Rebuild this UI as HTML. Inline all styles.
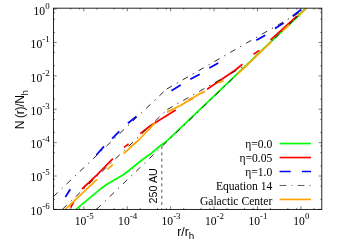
<!DOCTYPE html>
<html><head><meta charset="utf-8"><title>plot</title>
<style>html,body{margin:0;padding:0;background:#fff;}svg{display:block;will-change:transform;opacity:0.999;}text{font-family:"Liberation Serif",serif;fill:#000;}.ss{font-family:"Liberation Sans",sans-serif;}</style></head><body>
<svg width="350" height="245" viewBox="0 0 350 245">
<rect x="0" y="0" width="350" height="245" fill="#fff"/>
<path d="M53.5 9.10h3.2M321.8 9.10h-3.2M53.5 32.43h1.5M321.8 32.43h-1.5M53.5 19.15h1.5M321.8 19.15h-1.5M53.5 12.33h1.5M321.8 12.33h-1.5M53.5 42.48h3.2M321.8 42.48h-3.2M53.5 65.81h1.5M321.8 65.81h-1.5M53.5 52.53h1.5M321.8 52.53h-1.5M53.5 45.71h1.5M321.8 45.71h-1.5M53.5 75.86h3.2M321.8 75.86h-3.2M53.5 99.19h1.5M321.8 99.19h-1.5M53.5 85.91h1.5M321.8 85.91h-1.5M53.5 79.09h1.5M321.8 79.09h-1.5M53.5 109.24h3.2M321.8 109.24h-3.2M53.5 132.57h1.5M321.8 132.57h-1.5M53.5 119.29h1.5M321.8 119.29h-1.5M53.5 112.47h1.5M321.8 112.47h-1.5M53.5 142.62h3.2M321.8 142.62h-3.2M53.5 165.95h1.5M321.8 165.95h-1.5M53.5 152.67h1.5M321.8 152.67h-1.5M53.5 145.85h1.5M321.8 145.85h-1.5M53.5 176.00h3.2M321.8 176.00h-3.2M53.5 199.33h1.5M321.8 199.33h-1.5M53.5 186.05h1.5M321.8 186.05h-1.5M53.5 179.23h1.5M321.8 179.23h-1.5M53.5 209.38h3.2M321.8 209.38h-3.2M70.73 209.4v-1.5M70.73 8.17v1.5M79.59 209.4v-1.5M79.59 8.17v1.5M83.80 209.4v-3.2M83.80 8.17v3.2M96.87 209.4v-1.5M96.87 8.17v1.5M114.15 209.4v-1.5M114.15 8.17v1.5M123.01 209.4v-1.5M123.01 8.17v1.5M127.22 209.4v-3.2M127.22 8.17v3.2M140.29 209.4v-1.5M140.29 8.17v1.5M157.57 209.4v-1.5M157.57 8.17v1.5M166.43 209.4v-1.5M166.43 8.17v1.5M170.64 209.4v-3.2M170.64 8.17v3.2M183.71 209.4v-1.5M183.71 8.17v1.5M200.99 209.4v-1.5M200.99 8.17v1.5M209.85 209.4v-1.5M209.85 8.17v1.5M214.06 209.4v-3.2M214.06 8.17v3.2M227.13 209.4v-1.5M227.13 8.17v1.5M244.41 209.4v-1.5M244.41 8.17v1.5M253.27 209.4v-1.5M253.27 8.17v1.5M257.48 209.4v-3.2M257.48 8.17v3.2M270.55 209.4v-1.5M270.55 8.17v1.5M287.83 209.4v-1.5M287.83 8.17v1.5M296.69 209.4v-1.5M296.69 8.17v1.5M300.90 209.4v-3.2M300.90 8.17v3.2M313.97 209.4v-1.5M313.97 8.17v1.5" stroke="#111" stroke-width="0.55" fill="none"/>
<clipPath id="c"><rect x="53.5" y="8.17" width="268.3" height="201.23000000000002"/></clipPath>
<g clip-path="url(#c)" fill="none" stroke-linecap="butt" stroke-linejoin="round">
<polyline points="75.7,209.6 100.0,189.3 107.0,184.3 114.3,180.0 122.9,175.0 128.6,170.7 135.7,165.0 142.9,159.3 150.0,154.3 160.0,146.0 167.5,140.4 272.0,40.6 295.0,19.0 306.3,8.0" stroke="#00ff00" stroke-width="1.75"/>
<polyline points="70.7,207.6 73.6,202.0" stroke="#ff0000" stroke-width="1.75"/>
<polyline points="82.0,189.0 97.0,174.8 112.9,158.6" stroke="#ff0000" stroke-width="1.75"/>
<polyline points="124.0,147.4 128.6,144.0" stroke="#ff0000" stroke-width="1.75"/>
<polyline points="140.2,133.6 150.0,126.0 175.7,110.0" stroke="#ff0000" stroke-width="1.75"/>
<polyline points="188.6,100.3 192.9,98.1" stroke="#ff0000" stroke-width="1.75"/>
<polyline points="207.1,89.3 235.0,70.3 242.4,64.3" stroke="#ff0000" stroke-width="1.75"/>
<polyline points="253.6,54.3 259.3,50.4" stroke="#ff0000" stroke-width="1.75"/>
<polyline points="270.5,39.9 285.0,26.8 296.8,16.2" stroke="#ff0000" stroke-width="1.75"/>
<polyline points="65.4,197.0 70.3,189.3" stroke="#0000ff" stroke-width="1.75"/>
<polyline points="96.4,155.0 104.0,146.4" stroke="#0000ff" stroke-width="1.75"/>
<polyline points="112.1,138.6 119.3,131.4" stroke="#0000ff" stroke-width="1.75"/>
<polyline points="127.9,123.3 136.4,116.4" stroke="#0000ff" stroke-width="1.75"/>
<polyline points="171.4,90.7 180.7,85.0" stroke="#0000ff" stroke-width="1.75"/>
<polyline points="190.3,79.3 199.7,74.3" stroke="#0000ff" stroke-width="1.75"/>
<polyline points="209.3,67.9 218.3,62.9" stroke="#0000ff" stroke-width="1.75"/>
<polyline points="256.3,40.2 265.3,35.3" stroke="#0000ff" stroke-width="1.75"/>
<polyline points="275.0,28.6 283.6,23.0" stroke="#0000ff" stroke-width="1.75"/>
<polyline points="292.6,16.3 301.2,9.5" stroke="#0000ff" stroke-width="1.75"/>
<polyline points="53.3,196.7 167.3,88.3" stroke="#222" stroke-width="0.95" stroke-dasharray="6.0 5.5 1.3 5.5"/>
<polyline points="166.8,89.0 306.9,8.3" stroke="#222" stroke-width="0.95" stroke-dasharray="6.0 5.5 1.3 5.5"/>
<polyline points="62.4,209.3 167.3,109.5" stroke="#222" stroke-width="0.95" stroke-dasharray="6.0 5.5 1.3 5.5"/>
<polyline points="167.3,109.5 248.6,63.6" stroke="#222" stroke-width="0.95" stroke-dasharray="6.0 5.5 1.3 5.5"/>
<polyline points="248.6,63.6 306.0,8.3" stroke="#222" stroke-width="0.95" stroke-dasharray="6.0 5.5 1.3 5.5"/>
<polyline points="96.5,209.3 306.0,8.3" stroke="#222" stroke-width="0.95" stroke-dasharray="6.0 5.5 1.3 5.5"/>
<polyline points="65.0,209.6 97.0,179.4" stroke="#ffa500" stroke-width="1.75"/>
<polyline points="107.4,169.3 112.9,164.3" stroke="#ffa500" stroke-width="1.75"/>
<polyline points="123.6,153.6 138.6,140.0 155.0,122.9" stroke="#ffa500" stroke-width="1.75"/>
<polyline points="167.1,112.1 181.4,105.0 200.0,93.6 205.0,91.4" stroke="#ffa500" stroke-width="1.75"/>
<polyline points="218.0,82.9 223.6,80.7" stroke="#ffa500" stroke-width="1.75"/>
<polyline points="237.0,74.7 272.0,41.2" stroke="#ffa500" stroke-width="1.75"/>
<polyline points="282.4,31.2 289.3,24.6" stroke="#ffa500" stroke-width="1.75"/>
<polyline points="298.3,16.0 306.3,8.0" stroke="#ffa500" stroke-width="1.75"/>
</g>
<path d="M161.8 146.2V209" stroke="#333" stroke-width="0.85" stroke-dasharray="2.9 3.3" fill="none"/>
<rect x="53.5" y="8.17" width="268.3" height="201.23000000000002" fill="none" stroke="#000" stroke-width="0.85"/>
<text x="49.60" y="15.05" text-anchor="end" font-size="11.6">10<tspan dy="-6.0" font-size="8.9">0</tspan></text>
<text x="49.60" y="48.32" text-anchor="end" font-size="11.6">10<tspan dy="-6.0" font-size="8.9">-1</tspan></text>
<text x="49.60" y="81.59" text-anchor="end" font-size="11.6">10<tspan dy="-6.0" font-size="8.9">-2</tspan></text>
<text x="49.60" y="114.86" text-anchor="end" font-size="11.6">10<tspan dy="-6.0" font-size="8.9">-3</tspan></text>
<text x="49.60" y="148.13" text-anchor="end" font-size="11.6">10<tspan dy="-6.0" font-size="8.9">-4</tspan></text>
<text x="49.60" y="181.40" text-anchor="end" font-size="11.6">10<tspan dy="-6.0" font-size="8.9">-5</tspan></text>
<text x="49.60" y="214.67" text-anchor="end" font-size="11.6">10<tspan dy="-6.0" font-size="8.9">-6</tspan></text>
<text x="84.20" y="224.70" text-anchor="middle" font-size="11.6">10<tspan dy="-6.0" font-size="8.9">-5</tspan></text>
<text x="127.62" y="224.70" text-anchor="middle" font-size="11.6">10<tspan dy="-6.0" font-size="8.9">-4</tspan></text>
<text x="171.04" y="224.70" text-anchor="middle" font-size="11.6">10<tspan dy="-6.0" font-size="8.9">-3</tspan></text>
<text x="214.46" y="224.70" text-anchor="middle" font-size="11.6">10<tspan dy="-6.0" font-size="8.9">-2</tspan></text>
<text x="257.88" y="224.70" text-anchor="middle" font-size="11.6">10<tspan dy="-6.0" font-size="8.9">-1</tspan></text>
<text x="301.30" y="224.70" text-anchor="middle" font-size="11.6">10<tspan dy="-6.0" font-size="8.9">0</tspan></text>
<text class="ss" transform="translate(24.1 129.3) rotate(-90)" font-size="12.0" letter-spacing="-0.3">N (r)/N<tspan dy="3.8" font-size="9.7">h</tspan></text>
<text class="ss" x="177.3" y="235.8" font-size="12.2">r/r<tspan dy="3.6" font-size="9.9">h</tspan></text>
<text class="ss" transform="translate(157.2 203.4) rotate(-90)" font-size="10.75">250 AU</text>
 <text x="272.3" y="148.30" text-anchor="end" font-size="11.6">η=0.0</text>
<path d="M279.6 143.55H311" stroke="#00ff00" stroke-width="1.65"/>
 <text x="272.3" y="162.35" text-anchor="end" font-size="11.6">η=0.05</text>
<path d="M279.6 157.53H311" stroke="#ff0000" stroke-width="1.65"/>
 <text x="272.3" y="176.40" text-anchor="end" font-size="11.6">η=1.0</text>
<path d="M279.6 171.50H290.7M301.9 171.50H311" stroke="#0000ff" stroke-width="1.65"/>
 <text x="272.3" y="190.45" text-anchor="end" font-size="11.6">Equation 14</text>
<path d="M279.6 185.48H311" stroke="#333" stroke-width="0.8" stroke-dasharray="6.8 5.2 1 5"/>
 <text x="272.3" y="204.50" text-anchor="end" font-size="11.6">Galactic Center</text>
<path d="M279.6 199.45H311" stroke="#ffa500" stroke-width="1.65"/>
</svg></body></html>
